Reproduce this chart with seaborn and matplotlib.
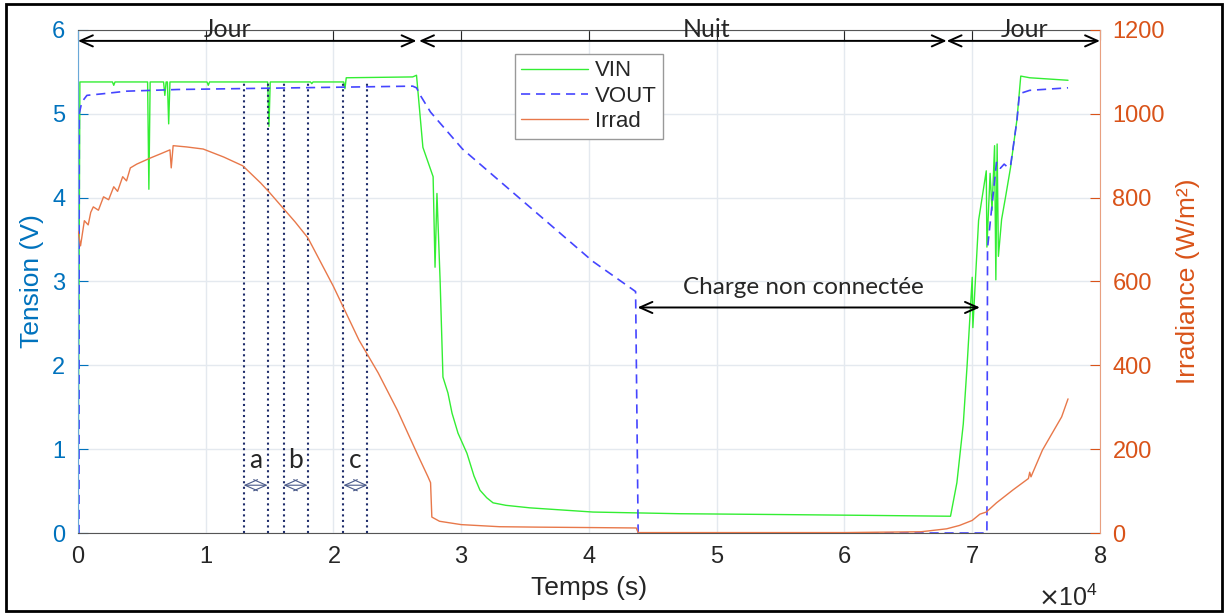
import numpy as np
import pandas as pd
import seaborn as sns
import matplotlib.pyplot as plt
from matplotlib.patches import Rectangle
from matplotlib.ticker import ScalarFormatter

# --- data (time in s) ---
t_vin = [0, 150, 2700, 2800, 2900, 5450, 5550, 5650, 6700, 6800, 6900, 7000, 7100, 7200,
         10100, 10200, 10300, 14850, 14950, 15050, 18200, 18300, 18400, 20800, 20900, 21000,
         26200, 26500, 27000, 27800, 27950, 28100, 28350, 28570, 28960, 29280, 29750,
         30450, 31000, 31470, 32000, 32490, 33500, 35380, 40310, 47120, 55000, 62000, 68300,
         68800, 69300, 69600, 70000, 70050, 70500, 71100, 71150, 71400, 71550, 71750,
         71850, 71950, 72050, 72300, 72600, 73000, 73500, 73800, 74500, 77500]
vin = [0, 5.38, 5.38, 5.34, 5.38, 5.38, 4.1, 5.38, 5.38, 5.22, 5.38, 5.38, 4.88, 5.38,
       5.38, 5.34, 5.38, 5.38, 4.85, 5.38, 5.38, 5.36, 5.38, 5.38, 5.3, 5.43,
       5.44, 5.46, 4.6, 4.25, 3.17, 4.05, 3.0, 1.86, 1.67, 1.43, 1.19,
       0.95, 0.68, 0.51, 0.42, 0.36, 0.33, 0.30, 0.25, 0.23, 0.22, 0.21, 0.2,
       0.6, 1.3, 2.0, 3.05, 2.45, 3.73, 4.32, 3.41, 4.29, 3.85, 4.62,
       3.02, 4.64, 3.3, 3.74, 4.0, 4.36, 4.93, 5.45, 5.43, 5.40]

t_vout = [0, 80, 100, 300, 700, 2000, 3800, 7800, 26200, 26500, 26800, 27600, 30100,
          40300, 43650, 43850, 71150, 71200, 71900, 72200, 72500, 72800, 73000, 73500,
          73700, 74500, 77500]
vout = [0, 0, 5.0, 5.14, 5.22, 5.24, 5.27, 5.29, 5.33, 5.31, 5.22, 5.02, 4.58,
        3.24, 2.88, 0.0, 0.0, 3.4, 4.42, 4.35, 4.4, 4.36, 4.38, 4.92,
        5.24, 5.28, 5.31]

t_irr = [0, 200, 500, 800, 1000, 1200, 1600, 2000, 2400, 2800, 3100, 3500, 3800, 4100,
         4600, 5700, 6500, 7200, 7300, 7450, 8500, 9800, 11400, 12900, 14300, 15000,
         17000, 18000, 20000, 22000, 23500, 25000, 26600, 27400, 27600, 27700, 28300,
         30000, 33000, 36000, 40000, 43700, 43850, 60000, 66000, 68000, 69000, 70000,
         70600, 71100, 71900, 73200, 74400, 74500, 74600, 75500, 77000, 77500]
irrad = [720, 685, 745, 735, 765, 778, 770, 802, 795, 826, 815, 850, 840, 871,
         880, 895, 905, 914, 871, 924, 921, 916, 897, 876, 835, 812,
         742, 704, 588, 460, 382, 293, 186, 134, 120, 38, 28,
         20, 15, 14, 13, 12, 1, 1, 3, 10, 18, 30,
         45, 50, 72, 103, 130, 145, 134, 198, 277, 320]

# annotation positions
cuts = [12970, 14840, 16090, 17970, 20780, 22660]
periods = [(0, 26500, 'Jour', 11700), (26700, 68000, 'Nuit', 49200), (68000, 80000, 'Jour', 74100)]

df_vin = pd.DataFrame({'t': t_vin, 'v': vin})
df_vout = pd.DataFrame({'t': t_vout, 'v': vout})
df_irr = pd.DataFrame({'t': t_irr, 'w': irrad})

sns.set_style("white")
plt.rcParams['font.family'] = ['Liberation Sans', 'DejaVu Sans']
ann_font = ['Lato', 'DejaVu Sans']

c_left = '#0072BD'
c_right = '#D95319'

fig = plt.figure(figsize=(12.26, 6.13), dpi=100)
ax1 = fig.add_axes([0.0636, 0.1305, 0.8336, 0.8206])
ax2 = ax1.twinx()

sns.lineplot(data=df_vin, x='t', y='v', ax=ax1, color='#33ee33', lw=1.0,
             estimator=None, sort=False, label='VIN')
sns.lineplot(data=df_vout, x='t', y='v', ax=ax1, color='#4545ff', lw=1.2,
             estimator=None, sort=False, label='VOUT', dashes=False)
ax1.lines[-1].set_dashes((5.5, 3.5))
sns.lineplot(data=df_irr, x='t', y='w', ax=ax2, color='#e8784a', lw=1.0,
             estimator=None, sort=False, label='Irrad')

ax1.set_xlim(0, 80000)
ax1.set_ylim(0, 6)
ax2.set_ylim(0, 1200)
ax1.set_xticks(np.arange(0, 80001, 10000))
ax1.set_yticks(range(0, 7))
ax2.set_yticks(range(0, 1201, 200))
fmt = ScalarFormatter(useMathText=True)
fmt.set_powerlimits((4, 4))
ax1.xaxis.set_major_formatter(fmt)
ax1.xaxis.get_offset_text().set_visible(False)
fig.text(0.871, 0.024, r'$\times\mathregular{10^4}$', fontsize=18, color='#262626',
         ha='center', va='center')

ax1.grid(True, color='#e4e9ef', lw=1.0)
ax1.set_axisbelow(True)

ax1.tick_params(axis='x', direction='in', top=True, length=7, labelsize=17,
                colors='#262626', pad=9)
ax1.tick_params(axis='y', direction='in', length=7, labelsize=17, colors=c_left, pad=9)
ax2.tick_params(axis='y', direction='in', length=7, labelsize=17, colors=c_right, pad=9)

for s in ['top', 'bottom']:
    ax1.spines[s].set_color('#555555')
ax1.spines['left'].set_color('#6aa8d8')
ax1.spines['right'].set_visible(False)
ax2.spines['left'].set_visible(False)
ax2.spines['top'].set_visible(False)
ax2.spines['bottom'].set_visible(False)
ax2.spines['right'].set_color('#e8a080')

ax1.set_xlabel('Temps (s)', fontsize=19, color='#262626', labelpad=6)
ax1.set_ylabel('Tension (V)', fontsize=19, color=c_left, labelpad=6)
ax2.set_ylabel('Irradiance (W/m²)', fontsize=19, color=c_right, labelpad=8)

# dotted cut lines and a/b/c markers
for xc in cuts:
    ax1.plot([xc, xc], [0, 5.38], color='#1f2d6b', ls=':', lw=1.5)
for i, lab in enumerate(['a', 'b', 'c']):
    x0, x1 = cuts[2 * i], cuts[2 * i + 1]
    ax1.text((x0 + x1) / 2, 0.86, lab, fontsize=19, family=ann_font,
             ha='center', va='center')
    ax1.annotate('', xy=(x0, 0.57), xytext=(x1, 0.57),
                 arrowprops=dict(arrowstyle='<->,head_length=0.9,head_width=0.4',
                                 color='#4a5a8a', lw=0.8, shrinkA=0, shrinkB=0))

# day / night arrows
for x0, x1, lab, xt in periods:
    ax1.annotate('', xy=(x0, 5.87), xytext=(x1, 5.87), annotation_clip=False,
                 arrowprops=dict(arrowstyle='<->,head_length=0.9,head_width=0.4',
                                 color='black', lw=1.4, shrinkA=0, shrinkB=0))
    ax1.text(xt, 6.01, lab, fontsize=18, family=ann_font,
             ha='center', va='center', clip_on=False)

ax1.annotate('', xy=(43800, 2.69), xytext=(70600, 2.69),
             arrowprops=dict(arrowstyle='<->,head_length=0.9,head_width=0.4',
                             color='black', lw=1.4, shrinkA=0, shrinkB=0))
ax1.text(56800, 2.93, 'Charge non connectée', fontsize=17.5,
         family=ann_font, ha='center', va='center')

# legend
h1, l1 = ax1.get_legend_handles_labels()
h2, l2 = ax2.get_legend_handles_labels()
ax1.get_legend().remove()
leg = ax2.legend(h1 + h2, l1 + l2, loc='upper center', bbox_to_anchor=(0.5, 0.975),
                 fontsize=16, handlelength=3.0, frameon=True, fancybox=False,
                 framealpha=1, edgecolor='#999999', borderpad=0.3, labelspacing=0.2,
                 handletextpad=0.3)

fig.patches.append(Rectangle((0.005, 0.004), 0.992, 0.99, transform=fig.transFigure,
                             fill=False, edgecolor='black', lw=2))

fig.savefig('out.png', dpi=100)
